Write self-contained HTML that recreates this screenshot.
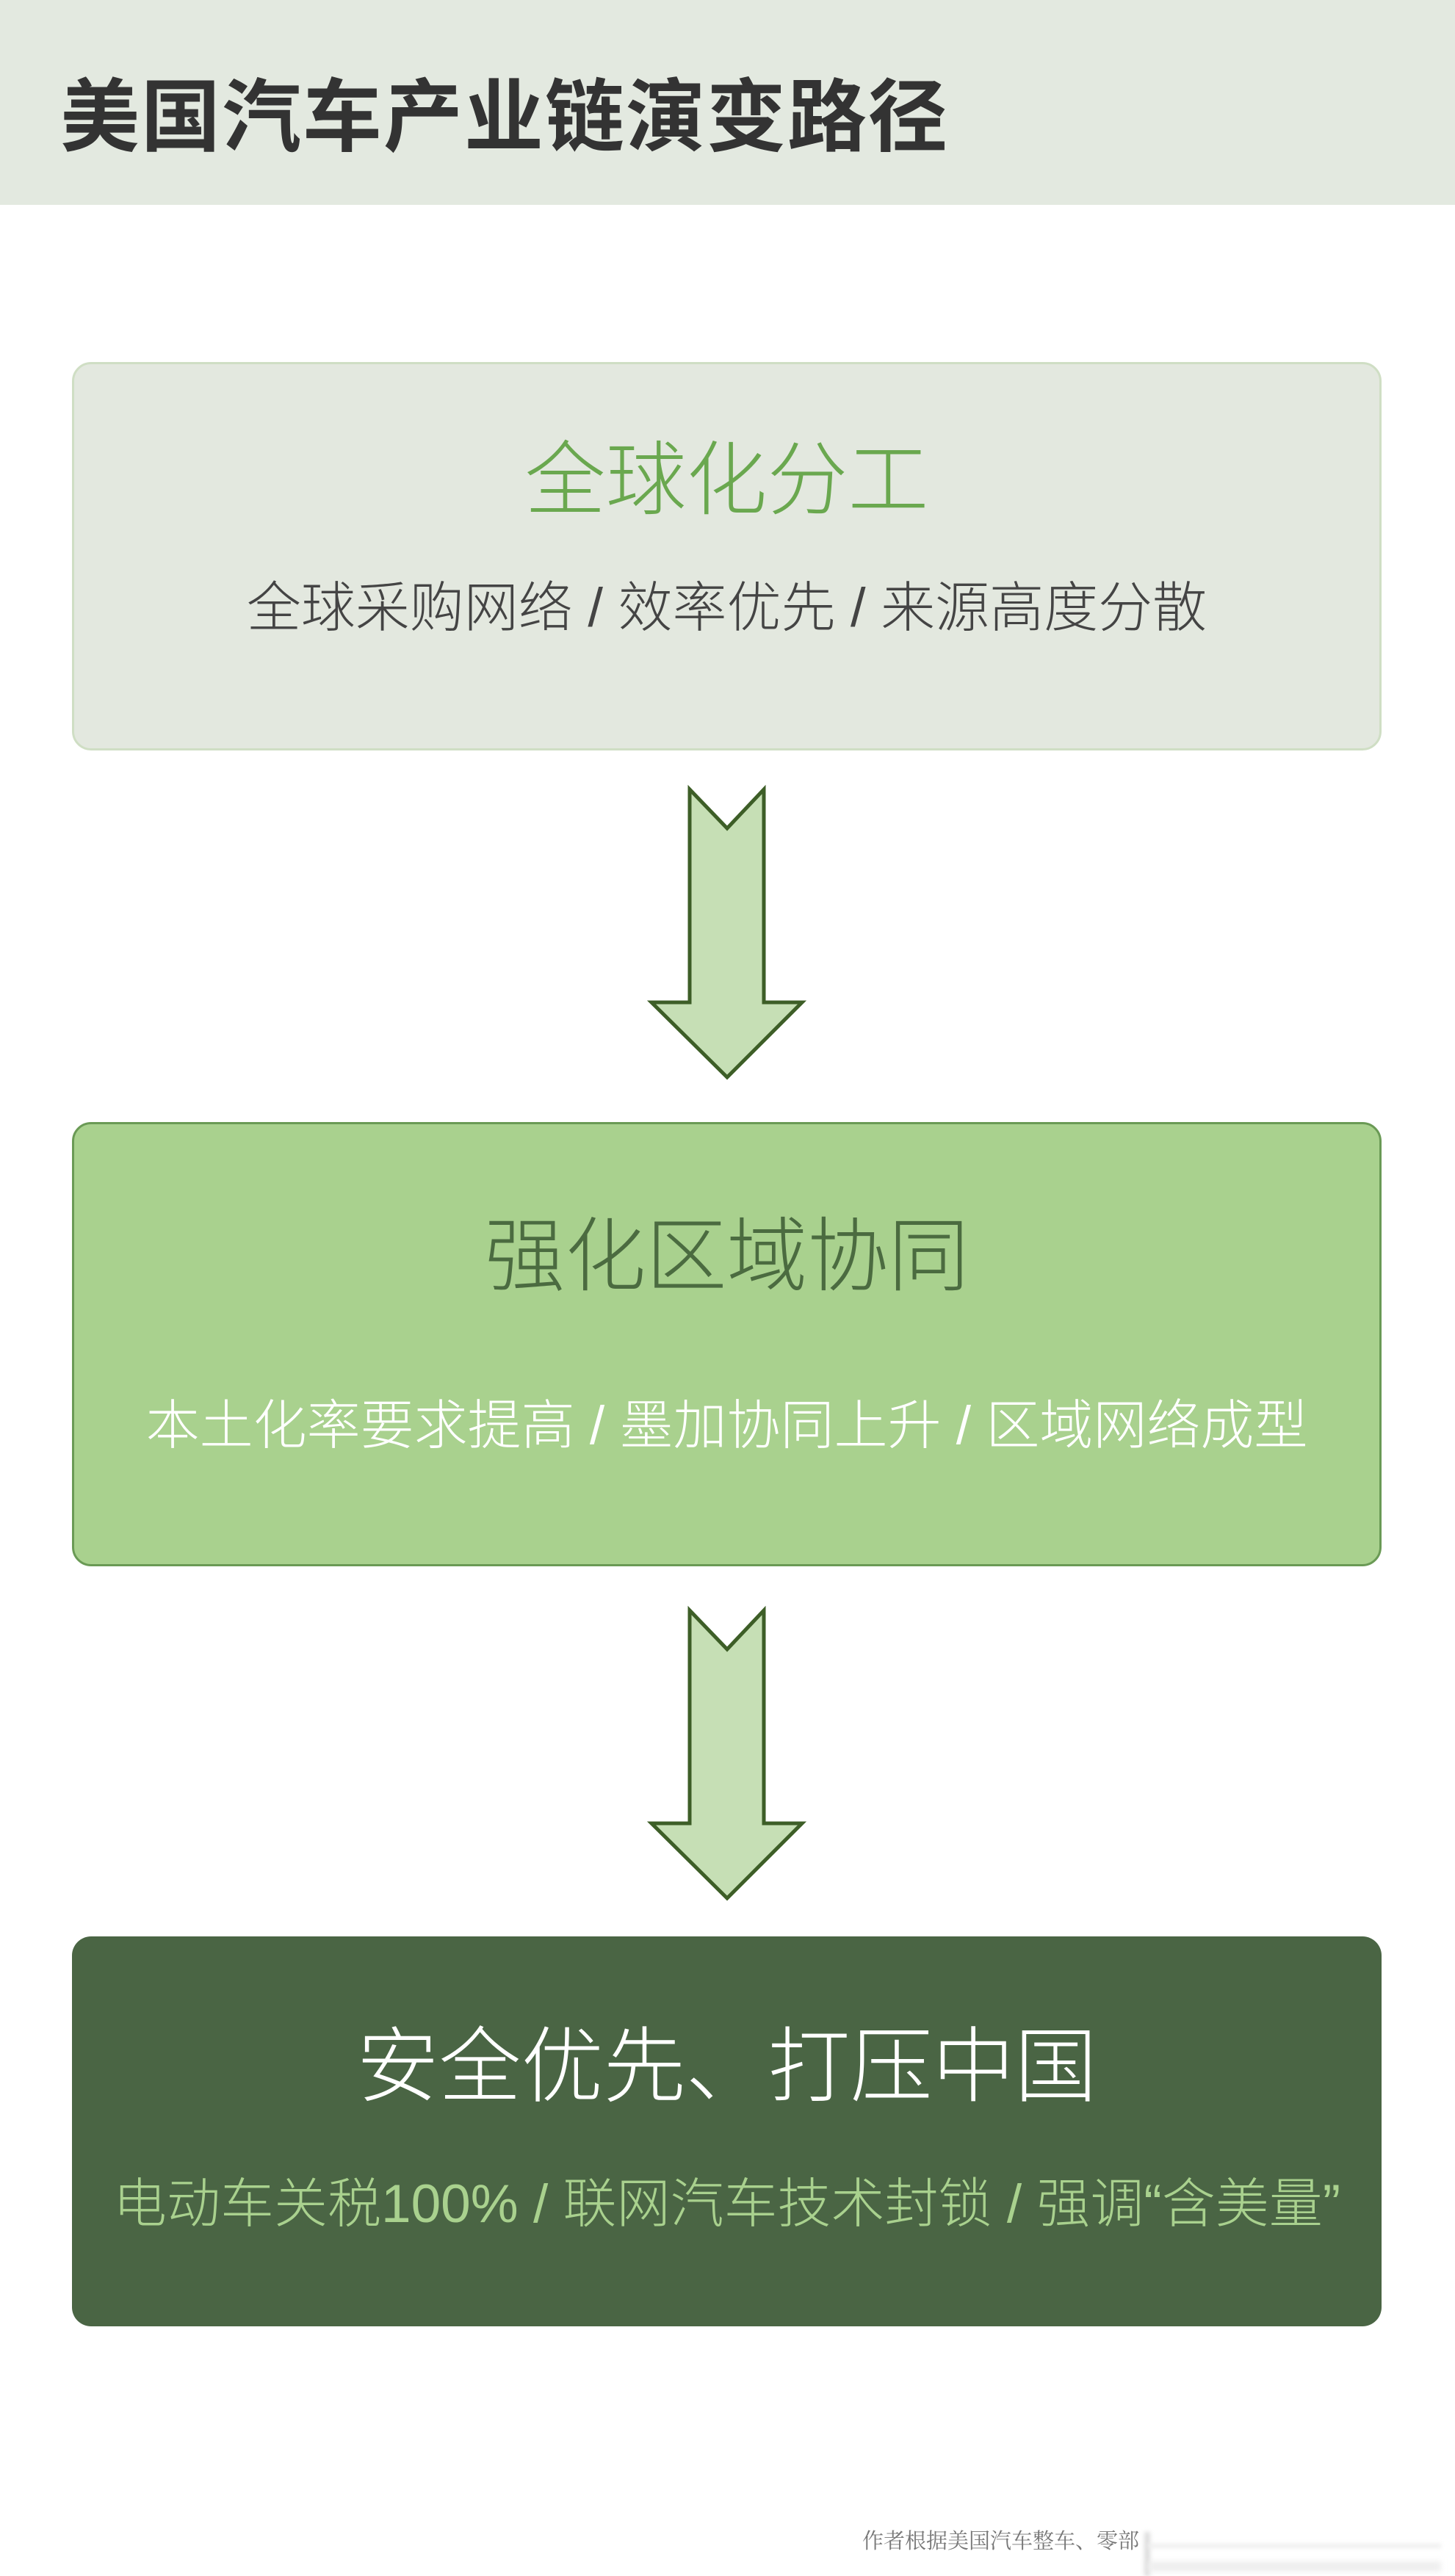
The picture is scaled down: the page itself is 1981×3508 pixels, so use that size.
<!DOCTYPE html>
<html><head><meta charset="utf-8"><style>
*{margin:0;padding:0;box-sizing:border-box}
body{width:1981px;height:3499px;background:#fff;position:relative;overflow:hidden;font-family:"Liberation Sans","Noto Sans CJK SC",sans-serif}
.hdr{position:absolute;left:0;top:0;width:1981px;height:279px;background:#e3e9e0}
.ttl{position:absolute;left:82px;top:106px;font-size:108px;font-weight:bold;color:#333;line-height:1;letter-spacing:2px;white-space:nowrap}
.box{position:absolute;left:98px;width:1783px;border-radius:26px}
.t{position:absolute;left:0;width:100%;text-align:center;line-height:1;white-space:nowrap}
.big{font-size:110px;font-weight:300}
.sub{font-weight:300}
</style></head><body>
<div class="hdr"><div class="ttl">美国汽车产业链演变路径</div></div>

<div class="box" style="top:493px;height:529px;background:#e3e8df;border:3px solid #cfdec4">
<div class="t big" style="top:104px;color:#6aa84f">全球化分工</div>
<div class="t sub" style="top:295px;font-size:74px;color:#444">全球采购网络 / 效率优先 / 来源高度分散</div>
</div>

<div class="box" style="top:1528px;height:605px;background:#a9d18e;border:3px solid #6a9a55">
<div class="t big" style="top:126px;color:#4b6b40">强化区域协同</div>
<div class="t sub" style="top:374px;font-size:73px;color:#fff">本土化率要求提高 / 墨加协同上升 / 区域网络成型</div>
</div>

<div class="box" style="top:2637px;height:531px;background:#4a6544">
<div class="t big" style="top:122px;font-size:112px;color:#fff">安全优先、打压中国</div>
<div class="t sub" style="top:328px;font-size:73px;color:#a9d18e">电动车关税100% / 联网汽车技术封锁 / 强调“含美量”</div>
</div>

<svg style="position:absolute;left:0;top:0" width="1981" height="3499">
<g fill="#c6dfb5" stroke="#3d5e27" stroke-width="5" stroke-linejoin="miter">
<polygon points="939,1075 990,1128 1040,1075 1040,1365 1092,1365 990,1467 887,1365 939,1365"/>
<polygon points="939,2193 990,2246 1040,2193 1040,2483 1092,2483 990,2585 887,2483 939,2483"/>
</g>
</svg>

<div style="position:absolute;left:1174px;top:3438px;font-size:29px;color:#777;font-family:'Liberation Serif','Noto Serif CJK SC',serif;white-space:nowrap">作者根据美国汽车整车、零部</div>
<div style="position:absolute;left:1558px;top:3448px;width:8px;height:60px;background:#ddd;filter:blur(3px)"></div>
<div style="position:absolute;left:1562px;top:3464px;width:400px;height:6px;background:#eee;filter:blur(3px)"></div>
<div style="position:absolute;left:1562px;top:3488px;width:400px;height:14px;background:#eee;filter:blur(4px)"></div>
</body></html>
